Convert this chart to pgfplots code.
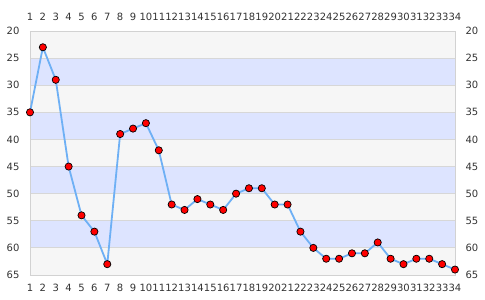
\documentclass[border=0pt]{standalone}
\usepackage{pgfplots}
\pgfplotsset{compat=1.18}
\usepackage{fontspec}
\setmainfont{DejaVu Sans}
\definecolor{bggray}{RGB}{246,246,246}
\definecolor{bgblue}{RGB}{221,228,255}
\definecolor{gridc}{RGB}{215,215,215}
\definecolor{framec}{RGB}{210,210,210}
\definecolor{linec}{RGB}{110,176,245}
\definecolor{labc}{RGB}{51,51,51}
\pgfplotstableread{
x y
1 35
2 23
3 29
4 45
5 54
6 57
7 63
8 39
9 38
10 37
11 42
12 52
13 53
14 51
15 52
16 53
17 50
18 49
19 49
20 52
21 52
22 57
23 60
24 62
25 62
26 61
27 61
28 59
29 62
30 63
31 62
32 62
33 63
34 64
}\datatable
\pgfplotsset{
  common/.style={
    scale only axis, width=425pt, height=244pt,
    at={(0,0)}, anchor=south west,
    xmin=1, xmax=34, ymin=20, ymax=65, y dir=reverse,
    xtick={1,...,34}, ytick={20,25,...,65},
    major tick length=0pt,
    tick label style={font=\fontsize{10}{12}\selectfont, text=labc},
    /pgf/number format/assume math mode=true,
  }
}
\begin{document}
\begin{tikzpicture}
\begin{axis}[common,
  set layers,
  axis line style={framec},
  ymajorgrids, grid style={gridc, line width=0.8pt},
  xticklabel pos=left, yticklabel pos=left,
  xticklabel style={inner xsep=0pt, yshift=-6pt},
  yticklabel style={xshift=-7pt},
  clip=false,
]
\begin{pgfonlayer}{axis background}
\fill[bggray] (axis cs:1,20) rectangle (axis cs:34,65);
\fill[bgblue] (axis cs:1,25) rectangle (axis cs:34,30);
\fill[bgblue] (axis cs:1,35) rectangle (axis cs:34,40);
\fill[bgblue] (axis cs:1,45) rectangle (axis cs:34,50);
\fill[bgblue] (axis cs:1,55) rectangle (axis cs:34,60);
\end{pgfonlayer}
\addplot[linec, line width=1.8pt, mark=*, mark size=3.6pt,
  mark options={fill=red, draw=black, line width=0.7pt}] table[x=x,y=y] {\datatable};
\end{axis}
\begin{axis}[common,
  axis line style={draw=none},
  xticklabel pos=right, yticklabel pos=right,
  xticklabel style={inner xsep=0pt, yshift=7pt},
  yticklabel style={xshift=7pt},
]
\addplot[draw=none] coordinates {(1,20) (34,65)};
\end{axis}
\pgfresetboundingbox
\path[use as bounding box] (-30pt,-25pt) rectangle (455pt,275pt);
\end{tikzpicture}
\end{document}
